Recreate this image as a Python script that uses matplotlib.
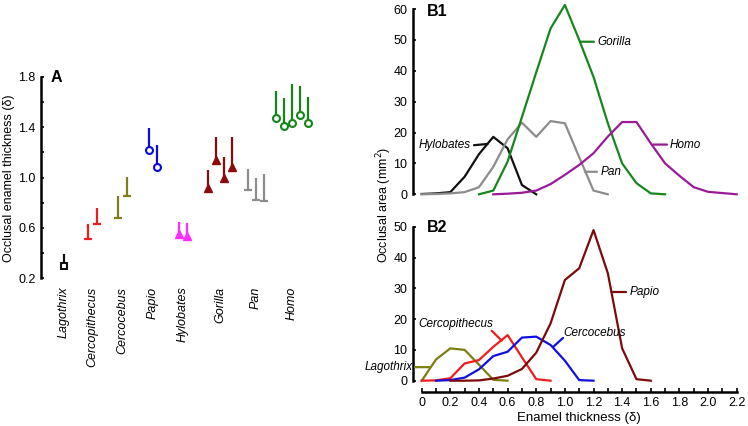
import matplotlib
matplotlib.use("Agg")
import matplotlib.pyplot as plt
import numpy as np

plt.rcParams['font.family'] = ['Liberation Sans', 'DejaVu Sans']

# ---------------- Panel A data ----------------
a_categories = ['Lagothrix', 'Cercopithecus', 'Cercocebus', 'Papio',
                'Hylobates', 'Gorilla', 'Pan', 'Homo']
lagothrix_low = [0.30]
lagothrix_high = [0.39]
cercopithecus_low = [0.51, 0.63]
cercopithecus_high = [0.63, 0.76]
cercocebus_low = [0.68, 0.85]
cercocebus_high = [0.85, 1.005]
papio_low = [1.22, 1.085]
papio_high = [1.39, 1.26]
hylobates_low = [0.55, 0.535]
hylobates_high = [0.65, 0.64]
gorilla_low = [0.915, 1.14, 1.00, 1.08]
gorilla_high = [1.06, 1.32, 1.16, 1.32]
pan_low = [0.90, 0.82, 0.815]
pan_high = [1.07, 1.00, 1.03]
homo_low = [1.47, 1.41, 1.43, 1.50, 1.43]
homo_high = [1.69, 1.63, 1.74, 1.73, 1.64]

a_lows = [lagothrix_low, cercopithecus_low, cercocebus_low, papio_low,
          hylobates_low, gorilla_low, pan_low, homo_low]
a_highs = [lagothrix_high, cercopithecus_high, cercocebus_high, papio_high,
           hylobates_high, gorilla_high, pan_high, homo_high]

# ---------------- Panel B1 data ----------------
hylobates_x = [0.0, 0.1, 0.2, 0.3, 0.4, 0.5, 0.6, 0.7, 0.8]
hylobates_y = [0.1, 0.3, 0.7, 5.7, 13.0, 18.6, 14.9, 3.0, 0.0]
pan_x = [0.0, 0.1, 0.2, 0.3, 0.4, 0.5, 0.6, 0.7, 0.8, 0.9, 1.0, 1.1, 1.2, 1.3]
pan_y = [0.0, 0.1, 0.3, 0.7, 2.3, 8.9, 17.8, 23.2, 18.6, 23.7, 23.0, 12.0, 1.2, 0.0]
gorilla_x = [0.4, 0.5, 0.6, 0.7, 0.8, 0.9, 1.0, 1.1, 1.2, 1.3, 1.4, 1.5, 1.6, 1.7]
gorilla_y = [0.0, 1.2, 10.6, 25.0, 39.5, 53.7, 61.3, 50.0, 38.0, 23.0, 10.0, 3.6, 0.3, 0.0]
homo_x = [0.5, 0.6, 0.7, 0.8, 0.9, 1.0, 1.1, 1.2, 1.3, 1.4, 1.5, 1.6, 1.7,
          1.8, 1.9, 2.0, 2.1, 2.2]
homo_y = [0.0, 0.2, 0.5, 1.2, 3.3, 6.3, 9.5, 13.3, 18.7, 23.4, 23.4, 16.5,
          10.0, 6.0, 2.3, 0.8, 0.4, 0.0]

# ---------------- Panel B2 data ----------------
lagothrix_x = [0.0, 0.1, 0.2, 0.3, 0.4, 0.5, 0.6]
lagothrix_y = [0.0, 6.9, 10.5, 10.0, 5.2, 0.3, 0.0]
cercopithecus_x = [0.0, 0.1, 0.2, 0.3, 0.4, 0.5, 0.6, 0.7, 0.8, 0.9]
cercopithecus_y = [0.0, 0.1, 0.8, 5.6, 6.7, 11.0, 14.8, 7.6, 0.5, 0.0]
cercocebus_x = [0.1, 0.2, 0.3, 0.4, 0.5, 0.6, 0.7, 0.8, 0.9, 1.0, 1.1, 1.2]
cercocebus_y = [0.0, 0.2, 1.0, 3.7, 8.0, 9.4, 14.0, 14.3, 11.6, 6.5, 0.2, 0.0]
papio_x = [0.2, 0.3, 0.4, 0.5, 0.6, 0.7, 0.8, 0.9, 1.0, 1.1, 1.2, 1.3, 1.4, 1.5, 1.6]
papio_y = [0.0, 0.0, 0.1, 0.7, 1.6, 3.8, 9.1, 18.6, 32.7, 36.5, 48.9, 34.9, 10.5, 0.5, 0.0]

x_ticks_major = [0, 0.2, 0.4, 0.6, 0.8, 1.0, 1.2, 1.4, 1.6, 1.8, 2.0, 2.2]
x_tick_labels = ['0', '0.2', '0.4', '0.6', '0.8', '1.0', '1.2', '1.4', '1.6',
                 '1.8', '2.0', '2.2']

# ---------------- styles ----------------
a_colors = ['#111111', '#ee1c1c', '#7f7f1a', '#0a0adc', '#ff2bff',
            '#8b0a0a', '#8c8c8c', '#13861a']
a_markers = ['s', '_', '_', 'o', '^', '^', '_', 'o']
a_filled = [False, True, True, False, True, True, True, False]
group_centers = [1.0, 1.95, 2.95, 3.97, 4.97, 6.2, 7.4, 8.6]
member_step = 0.267

W, H = 748, 426
fig = plt.figure(figsize=(W / 100, H / 100), dpi=100)


def fx(px):
    return px / W


def fy(py):
    return 1 - py / H


def add_ax(l, r, t, b):
    return fig.add_axes([fx(l), fy(b), fx(r) - fx(l), fy(t) - fy(b)])


LW = 1.6
TFS = 9

# ---------------- Panel A ----------------
axA = add_ax(41, 320, 76.7, 278.3)
axA.set_xlim(1 - 23 / 30, 1 + 256 / 30)
axA.set_ylim(0.2, 1.8)
for s in ['top', 'right', 'bottom']:
    axA.spines[s].set_visible(False)
axA.spines['left'].set_linewidth(1.8)
axA.set_yticks([0.2, 0.6, 1.0, 1.4, 1.8])
axA.set_yticklabels(['0.2', '0.6', '1.0', '1.4', '1.8'])
axA.set_yticks([0.4, 0.8, 1.2, 1.6], minor=True)
axA.tick_params(axis='y', which='both', direction='in', length=2.5, width=1.2,
                labelsize=TFS, pad=4)
axA.set_xticks(group_centers)
axA.set_xticklabels(a_categories, rotation=90, style='italic', fontsize=TFS,
                    va='top')
axA.tick_params(axis='x', length=0, pad=6)

for i in range(len(a_categories)):
    lows = a_lows[i]
    highs = a_highs[i]
    n = len(lows)
    xs = [group_centers[i] + (k - (n - 1) / 2) * member_step for k in range(n)]
    col = a_colors[i]
    axA.vlines(xs, lows, highs, colors=col, linewidth=LW, clip_on=False)
    m = a_markers[i]
    if m == '_':
        axA.plot(xs, lows, linestyle='none', marker='_', markersize=6,
                 mew=1.6, color=col, clip_on=False)
    elif a_filled[i]:
        axA.plot(xs, lows, linestyle='none', marker=m, markersize=5.5,
                 color=col, mec=col, clip_on=False)
    else:
        axA.plot(xs, lows, linestyle='none', marker=m, markersize=5,
                 mfc='white', mec=col, mew=1.5, clip_on=False, zorder=3)

fig.text(fx(51), fy(78), 'A', fontsize=11.5, fontweight='bold',
         ha='left', va='center')
fig.text(fx(9), fy(178), 'Occlusal enamel thickness (\u03b4)', rotation=90,
         fontsize=9, ha='center', va='center')

# ---------------- Panel B1 ----------------
axB1 = add_ax(421.7, 736.7, 9, 194.3)
axB1.set_xlim(0, 2.2)
axB1.set_ylim(0, 60)
for s in ['top', 'right', 'bottom']:
    axB1.spines[s].set_visible(False)
axB1.spines['left'].set_position(('outward', 6.3))
axB1.spines['left'].set_linewidth(1.8)
axB1.set_yticks([0, 10, 20, 30, 40, 50, 60])
axB1.tick_params(axis='y', direction='in', length=2.5, width=1.2,
                 labelsize=TFS, pad=4)
axB1.set_xticks([])

axB1.plot(hylobates_x, hylobates_y, color='#111111', lw=LW, clip_on=False)
axB1.plot(pan_x, pan_y, color='#8c8c8c', lw=LW, clip_on=False)
axB1.plot(gorilla_x, gorilla_y, color='#18861e', lw=LW, clip_on=False)
axB1.plot(homo_x, homo_y, color='#9a1a9a', lw=LW, clip_on=False)

LFS = 8.5
lead = dict(arrowstyle='-', lw=LW, shrinkA=0, shrinkB=0)


def leader(ax, x0, y0, x1, y1, color):
    ax.annotate('', xy=(x0, y0), xytext=(x1, y1),
                arrowprops=dict(lead, color=color), annotation_clip=False)


leader(axB1, 1.105, 49.4, 1.203, 49.4, '#18861e')
axB1.text(1.225, 49.4, 'Gorilla', style='italic', fontsize=LFS, va='center')
leader(axB1, 1.617, 16.1, 1.713, 16.1, '#9a1a9a')
axB1.text(1.735, 16.1, 'Homo', style='italic', fontsize=LFS, va='center')
leader(axB1, 1.14, 7.3, 1.224, 7.3, '#8c8c8c')
axB1.text(1.25, 7.3, 'Pan', style='italic', fontsize=LFS, va='center')
leader(axB1, 0.46, 16.3, 0.365, 15.9, '#111111')
axB1.text(0.34, 16.0, 'Hylobates', style='italic', fontsize=LFS,
          va='center', ha='right')

fig.text(fx(426.7), fy(12), 'B1', fontsize=11.5, fontweight='bold',
         ha='left', va='center')

# ---------------- Panel B2 ----------------
axB2 = add_ax(421.7, 736.7, 226.7, 380.7)
axB2.set_xlim(0, 2.2)
axB2.set_ylim(0, 50)
for s in ['top', 'right']:
    axB2.spines[s].set_visible(False)
axB2.spines['left'].set_position(('outward', 6.3))
axB2.spines['bottom'].set_position(('outward', 7.9))
axB2.spines['left'].set_linewidth(1.8)
axB2.spines['bottom'].set_linewidth(1.8)
axB2.set_yticks([0, 10, 20, 30, 40, 50])
axB2.tick_params(axis='y', direction='in', length=2.5, width=1.2,
                 labelsize=TFS, pad=4)
axB2.set_xticks(x_ticks_major)
axB2.set_xticklabels(x_tick_labels)
axB2.set_xticks(np.arange(0.1, 2.2, 0.2), minor=True)
axB2.tick_params(axis='x', which='both', direction='in', length=3, width=1.2,
                 labelsize=TFS, pad=4)
axB2.set_xlabel('Enamel thickness (\u03b4)', fontsize=9.5, labelpad=2)

axB2.plot(lagothrix_x, lagothrix_y, color='#7f7f10', lw=LW, clip_on=False)
axB2.plot(cercopithecus_x, cercopithecus_y, color='#ee1c1c', lw=LW, clip_on=False)
axB2.plot(cercocebus_x, cercocebus_y, color='#1010e0', lw=LW, clip_on=False)
axB2.plot(papio_x, papio_y, color='#7d0a0a', lw=LW, clip_on=False)

leader(axB2, 1.327, 28.8, 1.427, 28.8, '#7d0a0a')
axB2.text(1.45, 28.8, 'Papio', style='italic', fontsize=LFS, va='center')
leader(axB2, 0.919, 11.0, 0.987, 13.9, '#1010e0')
axB2.text(0.99, 15.5, 'Cercocebus', style='italic', fontsize=LFS, va='center')
leader(axB2, 0.559, 13.0, 0.489, 16.2, '#ee1c1c')
axB2.text(0.235, 18.4, 'Cercopithecus', style='italic', fontsize=LFS,
          va='center', ha='center')
leader(axB2, 0.058, 4.4, -0.047, 4.4, '#7f7f10')
axB2.text(-0.065, 4.4, 'Lagothrix', style='italic', fontsize=LFS,
          va='center', ha='right')

fig.text(fx(426.7), fy(228), 'B2', fontsize=11.5, fontweight='bold',
         ha='left', va='center')
fig.text(fx(384), fy(205), 'Occlusal area (mm$^2$)', rotation=90,
         fontsize=9, ha='center', va='center')

fig.savefig('out.png', dpi=100)
